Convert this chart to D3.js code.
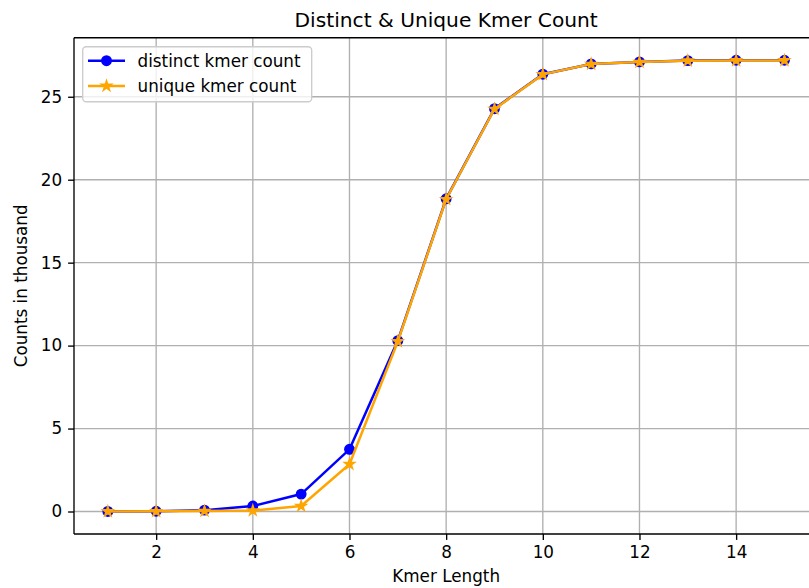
<!DOCTYPE html>
<html>
<head>
<meta charset="utf-8">
<script src="https://cdn.jsdelivr.net/npm/d3@7"></script>
<style>
  body { margin: 0; background: #fff; }
  svg { display: block; font-family: "DejaVu Sans", sans-serif; }
</style>
</head>
<body>
<div id="chart-area"></div>
<script>
// kmer length vs counts (thousands)
const kmerLength = [1, 2, 3, 4, 5, 6, 7, 8, 9, 10, 11, 12, 13, 14, 15];
const distinctCount = [0.004, 0.016, 0.08, 0.33, 1.05, 3.75, 10.3, 18.85, 24.28, 26.36, 26.98, 27.1, 27.18, 27.2, 27.2];
const uniqueCount = [0.004, 0.012, 0.03, 0.06, 0.33, 2.85, 10.25, 18.82, 24.26, 26.35, 26.97, 27.09, 27.17, 27.19, 27.19];
const xTicks = [2, 4, 6, 8, 10, 12, 14];
const yTicks = [0, 5, 10, 15, 20, 25];

const width = 809, height = 588;
const plotLeft = 74, plotTop = 37.7, plotRight = 818.3, plotBottom = 534;
const fs = 16.8;

const svg = d3.select("#chart-area").append("svg")
  .attr("width", width)
  .attr("height", height);

// matplotlib style 5% margins
const xExt = d3.extent(kmerLength);
const xPad = (xExt[1] - xExt[0]) * 0.05;
const allY = distinctCount.concat(uniqueCount);
const yExt = d3.extent(allY);
const yPad = (yExt[1] - yExt[0]) * 0.05;

const x = d3.scaleLinear().domain([xExt[0] - xPad, xExt[1] + xPad]).range([plotLeft, plotRight]);
const y = d3.scaleLinear().domain([yExt[0] - yPad, yExt[1] + yPad]).range([plotBottom, plotTop]);

// grid
svg.append("g").selectAll("line").data(xTicks).enter().append("line")
  .attr("x1", d => x(d)).attr("x2", d => x(d))
  .attr("y1", plotTop).attr("y2", plotBottom)
  .attr("stroke", "#b0b0b0").attr("stroke-width", 1.35);
svg.append("g").selectAll("line").data(yTicks).enter().append("line")
  .attr("x1", plotLeft).attr("x2", plotRight)
  .attr("y1", d => y(d)).attr("y2", d => y(d))
  .attr("stroke", "#b0b0b0").attr("stroke-width", 1.35);

// axes
const axisx = d3.axisBottom(x).tickValues(xTicks).tickSize(5.9).tickPadding(5.9).tickSizeOuter(0);
const axisy = d3.axisLeft(y).tickValues(yTicks).tickSize(5.9).tickPadding(5.9).tickSizeOuter(0);

const gx = svg.append("g").attr("transform", "translate(0," + plotBottom + ")").call(axisx);
const gy = svg.append("g").attr("transform", "translate(" + plotLeft + ",0)").call(axisy);
[gx, gy].forEach(g => {
  g.select(".domain").remove();
  g.selectAll(".tick line").attr("stroke", "#000").attr("stroke-width", 1.35);
  g.selectAll(".tick text").attr("fill", "#000").style("font-size", fs + "px")
    .style("font-family", "DejaVu Sans");
});
gx.selectAll(".tick text").attr("dy", "0.72em");

// spines
svg.append("line").attr("x1", plotLeft).attr("x2", plotLeft).attr("y1", plotTop).attr("y2", plotBottom)
  .attr("stroke", "#000").attr("stroke-width", 1.35);
svg.append("line").attr("x1", plotLeft).attr("x2", plotRight).attr("y1", plotBottom).attr("y2", plotBottom)
  .attr("stroke", "#000").attr("stroke-width", 1.35);
svg.append("line").attr("x1", plotLeft).attr("x2", plotRight).attr("y1", plotTop).attr("y2", plotTop)
  .attr("stroke", "#000").attr("stroke-width", 1.35);

// lines
const line = d3.line().x(d => x(d[0])).y(d => y(d[1]));
const distinctData = kmerLength.map((k, i) => [k, distinctCount[i]]);
const uniqueData = kmerLength.map((k, i) => [k, uniqueCount[i]]);

const star = d3.symbol().type(d3.symbolStar).size(28);

svg.append("path").datum(distinctData).attr("d", line)
  .attr("fill", "none").attr("stroke", "blue").attr("stroke-width", 2.5);
svg.append("g").selectAll("circle").data(distinctData).enter().append("circle")
  .attr("cx", d => x(d[0])).attr("cy", d => y(d[1])).attr("r", 4.6)
  .attr("fill", "blue").attr("stroke", "blue").attr("stroke-width", 1.68);

svg.append("path").datum(uniqueData).attr("d", line)
  .attr("fill", "none").attr("stroke", "orange").attr("stroke-width", 2.5);
svg.append("g").selectAll("path").data(uniqueData).enter().append("path")
  .attr("d", star)
  .attr("transform", d => "translate(" + x(d[0]) + "," + y(d[1]) + ")")
  .attr("fill", "orange").attr("stroke", "orange").attr("stroke-width", 1.68);

// title and labels
svg.append("text").attr("x", (plotLeft + plotRight) / 2).attr("y", 27)
  .attr("text-anchor", "middle").style("font-size", "20.2px").attr("fill", "#000")
  .text("Distinct & Unique Kmer Count");
svg.append("text").attr("x", (plotLeft + plotRight) / 2).attr("y", 582)
  .attr("text-anchor", "middle").style("font-size", fs + "px").attr("fill", "#000")
  .text("Kmer Length");
svg.append("text")
  .attr("transform", "translate(27," + ((plotTop + plotBottom) / 2) + ") rotate(-90)")
  .attr("text-anchor", "middle").style("font-size", fs + "px").attr("fill", "#000")
  .text("Counts in thousand");

// legend
const legend = svg.append("g");
legend.append("rect")
  .attr("x", 82.7).attr("y", 46.7).attr("width", 229).attr("height", 55)
  .attr("rx", 3.5).attr("fill", "#fff").attr("fill-opacity", 0.8)
  .attr("stroke", "#cccccc").attr("stroke-width", 1.35);

const legendItems = ["distinct kmer count", "unique kmer count"];
const legendColors = ["blue", "orange"];
legendItems.forEach((name, i) => {
  const cy = 60.7 + i * 25.3;
  legend.append("line").attr("x1", 88).attr("x2", 125).attr("y1", cy).attr("y2", cy)
    .attr("stroke", legendColors[i]).attr("stroke-width", 2.5);
  if (i == 0) {
    legend.append("circle").attr("cx", 106.5).attr("cy", cy).attr("r", 4.6)
      .attr("fill", "blue").attr("stroke", "blue").attr("stroke-width", 1.68);
  } else {
    legend.append("path").attr("d", star).attr("transform", "translate(106.5," + cy + ")")
      .attr("fill", "orange").attr("stroke", "orange").attr("stroke-width", 1.68);
  }
  legend.append("text").attr("x", 137.5).attr("y", cy).attr("dy", "0.35em")
    .style("font-size", fs + "px").attr("fill", "#000").text(name);
});
</script>
</body>
</html>
